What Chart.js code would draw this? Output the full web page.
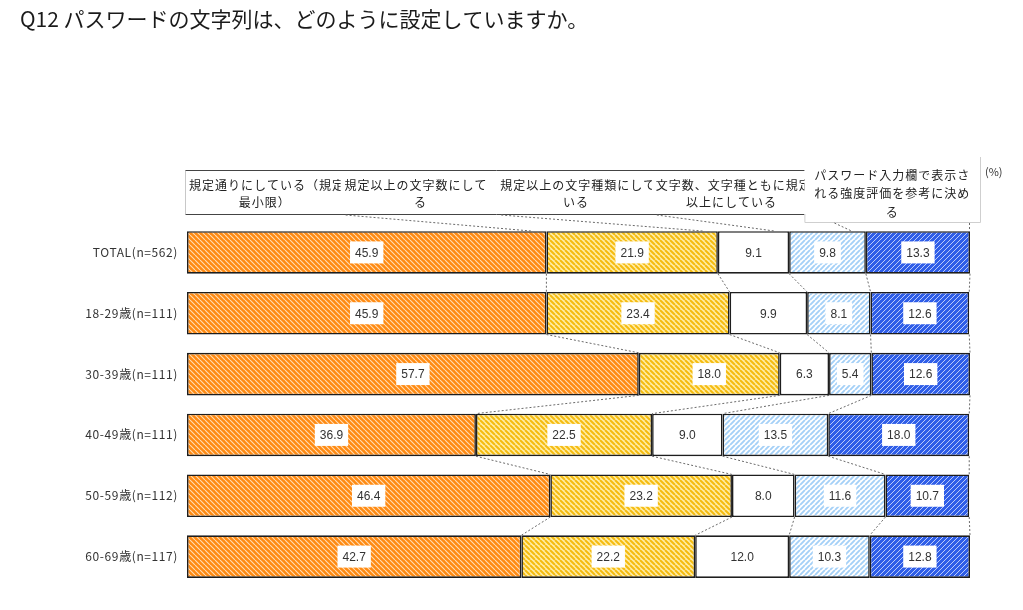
<!DOCTYPE html>
<html>
<head>
<meta charset="utf-8">
<script src="https://cdn.jsdelivr.net/npm/chart.js@4.4.1/dist/chart.umd.min.js"></script>
<style>
  html,body{margin:0;padding:0;background:#fff;}
  #wrap{position:relative;width:1023px;height:610px;}
</style>
</head>
<body>
<div id="wrap"><canvas id="c" width="1023" height="610"></canvas></div>
<script>
const titleText = 'Q12 パスワードの文字列は、どのように設定していますか。';
const categories = ['TOTAL(n=562)', '18-29歳(n=111)', '30-39歳(n=111)', '40-49歳(n=111)', '50-59歳(n=112)', '60-69歳(n=117)'];
const seriesNames = [
  '規定通りにしている（規定の最小限）',
  '規定以上の文字数にしている',
  '規定以上の文字種類にしている',
  '文字数、文字種ともに規定以上にしている',
  'パスワード入力欄で表示される強度評価を参考に決める'
];
const headerLines = [
  ['規定通りにしている（規定の', '最小限）'],
  ['規定以上の文字数にして', 'る'],
  ['規定以上の文字種類にして', 'いる'],
  ['文字数、文字種ともに規定', '以上にしている'],
  ['パスワード入力欄で表示さ', 'れる強度評価を参考に決め', 'る']
];
const seriesMinimum   = [45.9, 45.9, 57.7, 36.9, 46.4, 42.7];
const seriesMoreChars = [21.9, 23.4, 18.0, 22.5, 23.2, 22.2];
const seriesMoreTypes = [9.1, 9.9, 6.3, 9.0, 8.0, 12.0];
const seriesBoth      = [9.8, 8.1, 5.4, 13.5, 11.6, 10.3];
const seriesMeter     = [13.3, 12.6, 12.6, 18.0, 10.7, 12.8];
const unitLabel = '(%)';

const allSeries = [seriesMinimum, seriesMoreChars, seriesMoreTypes, seriesBoth, seriesMeter];

function makePattern(bg, fg, dir, lw, s) {
  const t = document.createElement('canvas');
  t.width = s; t.height = s;
  const g = t.getContext('2d');
  g.fillStyle = bg; g.fillRect(0, 0, s, s);
  if (fg) {
    g.strokeStyle = fg; g.lineWidth = lw;
    g.beginPath();
    for (let k = -s; k <= s; k += s) {
      if (dir === 'back') { g.moveTo(k, 0); g.lineTo(k + s, s); }
      else { g.moveTo(k, s); g.lineTo(k + s, 0); }
    }
    g.stroke();
  }
  return document.getElementById('c').getContext('2d').createPattern(t, 'repeat');
}

const fills = [
  makePattern('#FF8A12', 'rgba(255,235,210,0.85)', 'back', 1.1, 5),
  makePattern('#FFEDA6', '#F5BB10', 'back', 2.0, 5),
  '#FFFFFF',
  makePattern('#FFFFFF', '#A4D0F7', 'fwd', 1.9, 5),
  makePattern('#2F5EE8', 'rgba(235,240,255,0.75)', 'fwd', 1.0, 5)
];

const FONT_JP = '"Noto Sans CJK JP", "Noto Sans", sans-serif';

const overlay = {
  id: 'overlay',
  beforeDraw(chart) { chart.ctx.letterSpacing = '0.6px'; },
  beforeDatasetsDraw(chart) { chart.ctx.letterSpacing = '0px'; },
  afterDatasetsDraw(chart) {
    const ctx = chart.ctx;
    const xs = chart.scales.x;
    const metas = allSeries.map((_, i) => chart.getDatasetMeta(i));
    ctx.save();
    ctx.strokeStyle = '#6a6a6a';
    ctx.lineWidth = 1;
    ctx.setLineDash([2, 2]);
    for (let r = 0; r < categories.length - 1; r++) {
      let cumA = 0, cumB = 0;
      for (let k = 0; k < allSeries.length; k++) {
        cumA += allSeries[k][r]; cumB += allSeries[k][r + 1];
        const elA = metas[k].data[r], elB = metas[k].data[r + 1];
        const y1 = elA.y + elA.height / 2, y2 = elB.y - elB.height / 2;
        ctx.beginPath();
        ctx.moveTo(xs.getPixelForValue(cumA), y1);
        ctx.lineTo(xs.getPixelForValue(cumB), y2);
        ctx.stroke();
      }
    }
    ctx.restore();
    ctx.save();
    ctx.font = '12px "Liberation Sans", Arial, sans-serif';
    ctx.textAlign = 'center';
    ctx.textBaseline = 'middle';
    allSeries.forEach((vals, k) => {
      metas[k].data.forEach((el, r) => {
        const txt = vals[r].toFixed(1);
        const cx = (el.x + el.base) / 2, cy = el.y;
        const w = ctx.measureText(txt).width + 10;
        ctx.fillStyle = '#ffffff';
        ctx.fillRect(cx - w / 2, cy - 11, w, 22);
        ctx.fillStyle = '#333333';
        ctx.fillText(txt, cx, cy + 1);
      });
    });
    ctx.restore();
  },
  afterDraw(chart) {
    const ctx = chart.ctx;
    const ca = chart.chartArea;
    const xs = chart.scales.x;
    const metas = allSeries.map((_, i) => chart.getDatasetMeta(i));
    ctx.save();
    ctx.letterSpacing = '0px';
    ctx.fillStyle = '#1a1a1a';
    ctx.font = '21px ' + FONT_JP;
    ctx.textBaseline = 'middle';
    ctx.textAlign = 'left';
    ctx.fillText(titleText, 20, 19);
    ctx.restore();

    const boxTop = 170, boxBottom = 214;
    const boxW = 155.6;
    const left0 = ca.left - 2;
    const lefts = [0, 1, 2, 3].map(i => left0 + i * boxW);
    const topBar = metas[0].data[0].y - metas[0].data[0].height / 2;

    ctx.save();
    ctx.letterSpacing = '1px';
    ctx.fillStyle = '#fff';
    ctx.fillRect(left0, boxTop, boxW * 4, boxBottom - boxTop);
    ctx.font = '12px ' + FONT_JP;
    ctx.textBaseline = 'middle';
    for (let i = 0; i < 4; i++) {
      const L = lefts[i];
      ctx.save();
      ctx.beginPath();
      ctx.rect(L + 1, boxTop, boxW - 1, boxBottom - boxTop);
      ctx.clip();
      ctx.fillStyle = '#fff';
      ctx.fillRect(L, boxTop, boxW, boxBottom - boxTop);
      ctx.fillStyle = '#222';
      ctx.textAlign = 'left';
      ctx.fillText(headerLines[i][0], L + 4, 185);
      ctx.textAlign = 'center';
      ctx.fillText(headerLines[i][1], L + boxW / 2 + 2, 202);
      ctx.restore();
    }
    ctx.strokeStyle = '#c8c8c8';
    ctx.lineWidth = 1;
    ctx.beginPath();
    ctx.moveTo(left0 + 0.5, boxBottom); ctx.lineTo(left0 + 0.5, boxTop + 0.5);
    ctx.stroke();
    ctx.strokeStyle = '#444';
    ctx.beginPath();
    ctx.moveTo(left0 + 0.5, boxTop + 0.5); ctx.lineTo(left0 + boxW * 4, boxTop + 0.5);
    ctx.moveTo(left0 + 0.5, boxBottom + 0.5); ctx.lineTo(left0 + boxW * 4, boxBottom + 0.5);
    ctx.stroke();

    const b5L = left0 + boxW * 4 - 3, b5R = ca.right + 10, b5T = 157, b5B = 222;
    ctx.fillStyle = '#fff';
    ctx.fillRect(b5L, b5T, b5R - b5L, b5B - b5T);
    ctx.strokeStyle = '#cfcfcf';
    ctx.beginPath();
    ctx.moveTo(b5L + 0.5, boxBottom); ctx.lineTo(b5L + 0.5, b5B + 0.5);
    ctx.lineTo(b5R + 0.5, b5B + 0.5); ctx.lineTo(b5R + 0.5, b5T);
    ctx.stroke();
    ctx.fillStyle = '#222';
    ctx.textAlign = 'center';
    const c5 = (b5L + b5R) / 2;
    headerLines[4].forEach((t, j) => ctx.fillText(t, c5, 175 + j * 18.5));

    ctx.letterSpacing = '0px';
    ctx.font = '11px ' + FONT_JP;
    ctx.textAlign = 'left';
    ctx.fillStyle = '#333';
    ctx.fillText(unitLabel, ca.right + 15, 172);

    ctx.strokeStyle = '#6a6a6a';
    ctx.setLineDash([2, 2]);
    let cum = 0;
    for (let k = 0; k < 4; k++) {
      cum += allSeries[k][0];
      const sx = k < 3 ? lefts[k + 1] + 5 : b5L + 30;
      const sy = k < 3 ? boxBottom + 1 : b5B + 1;
      ctx.beginPath();
      ctx.moveTo(sx, sy);
      ctx.lineTo(xs.getPixelForValue(cum) - 14, topBar);
      ctx.stroke();
    }
    ctx.beginPath();
    ctx.moveTo(ca.right - 0.5, b5B + 1);
    ctx.lineTo(ca.right - 0.5, topBar);
    ctx.stroke();
    ctx.restore();
  }
};

new Chart(document.getElementById('c'), {
  type: 'bar',
  data: {
    labels: categories,
    datasets: allSeries.map((vals, i) => ({
      label: seriesNames[i],
      data: vals,
      backgroundColor: fills[i],
      borderColor: '#1e1e1e',
      borderWidth: 1.6,
      borderSkipped: false,
      categoryPercentage: 0.7,
      barPercentage: 1.0
    }))
  },
  options: {
    indexAxis: 'y',
    responsive: false,
    animation: false,
    devicePixelRatio: 1,
    layout: { padding: { left: 0, right: 53, top: 222, bottom: 23 } },
    plugins: { legend: { display: false }, tooltip: { enabled: false } },
    scales: {
      x: { stacked: true, min: 0, max: 100, display: false },
      y: {
        stacked: true,
        grid: { display: false, drawTicks: false },
        border: { display: false },
        ticks: { color: '#333', font: { size: 12, family: FONT_JP }, padding: 9 },
        afterFit(scale) { scale.width = 187; }
      }
    }
  },
  plugins: [overlay]
});
</script>
</body>
</html>
